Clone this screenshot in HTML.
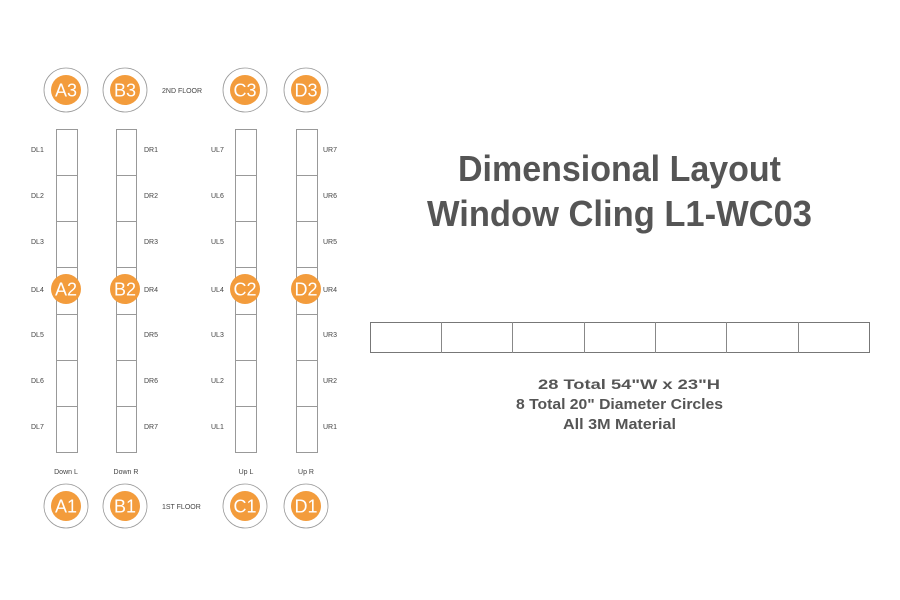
<!DOCTYPE html>
<html><head><meta charset="utf-8"><style>html,body{margin:0;padding:0;background:#fff}svg{display:block}</style></head>
<body>
<svg width="900" height="600" viewBox="0 0 900 600" xmlns="http://www.w3.org/2000/svg" font-family="Liberation Sans, sans-serif">
<rect width="900" height="600" fill="#fff"/>
<g fill="none" stroke="#999" stroke-width="1">
<rect x="56.5" y="129.5" width="21" height="323"/>
<rect x="116.5" y="129.5" width="20" height="323"/>
<rect x="235.5" y="129.5" width="21" height="323"/>
<rect x="296.5" y="129.5" width="21" height="323"/>
<path d="M56 175.5h22M56 221.5h22M56 267.5h22M56 314.5h22M56 360.5h22M56 406.5h22
M116 175.5h21M116 221.5h21M116 267.5h21M116 314.5h21M116 360.5h21M116 406.5h21
M235 175.5h22M235 221.5h22M235 267.5h22M235 314.5h22M235 360.5h22M235 406.5h22
M296 175.5h22M296 221.5h22M296 267.5h22M296 314.5h22M296 360.5h22M296 406.5h22"/>
<rect x="370.5" y="322.5" width="499" height="30" stroke="#777"/>
<path d="M441.5 322v31M512.5 322v31M584.5 322v31M655.5 322v31M726.5 322v31M798.5 322v31" stroke="#888"/>
</g>
<g font-size="7" fill="#444">
<text x="31" y="152">DL1</text><text x="31" y="198">DL2</text><text x="31" y="244">DL3</text><text x="31" y="292">DL4</text><text x="31" y="337">DL5</text><text x="31" y="383">DL6</text><text x="31" y="429">DL7</text>
<text x="144" y="152">DR1</text><text x="144" y="198">DR2</text><text x="144" y="244">DR3</text><text x="144" y="292">DR4</text><text x="144" y="337">DR5</text><text x="144" y="383">DR6</text><text x="144" y="429">DR7</text>
<text x="211" y="152">UL7</text><text x="211" y="198">UL6</text><text x="211" y="244">UL5</text><text x="211" y="292">UL4</text><text x="211" y="337">UL3</text><text x="211" y="383">UL2</text><text x="211" y="429">UL1</text>
<text x="323" y="152">UR7</text><text x="323" y="198">UR6</text><text x="323" y="244">UR5</text><text x="323" y="292">UR4</text><text x="323" y="337">UR3</text><text x="323" y="383">UR2</text><text x="323" y="429">UR1</text>
<text x="162" y="93">2ND FLOOR</text><text x="162" y="509">1ST FLOOR</text>
<text x="66" y="474" text-anchor="middle">Down L</text><text x="126" y="474" text-anchor="middle">Down R</text>
<text x="246" y="474" text-anchor="middle">Up L</text><text x="306" y="474" text-anchor="middle">Up R</text>
</g>
<g fill="none" stroke="#999" stroke-width="0.8">
<circle cx="66" cy="90" r="22"/><circle cx="125" cy="90" r="22"/><circle cx="245" cy="90" r="22"/><circle cx="306" cy="90" r="22"/>
<circle cx="66" cy="506" r="22"/><circle cx="125" cy="506" r="22"/><circle cx="245" cy="506" r="22"/><circle cx="306" cy="506" r="22"/>
</g>
<g fill="#f39c3c">
<circle cx="66" cy="90" r="15"/><circle cx="125" cy="90" r="15"/><circle cx="245" cy="90" r="15"/><circle cx="306" cy="90" r="15"/>
<circle cx="66" cy="289" r="15"/><circle cx="125" cy="289" r="15"/><circle cx="245" cy="289" r="15"/><circle cx="306" cy="289" r="15"/>
<circle cx="66" cy="506" r="15"/><circle cx="125" cy="506" r="15"/><circle cx="245" cy="506" r="15"/><circle cx="306" cy="506" r="15"/>
</g>
<g fill="#fff" font-size="18" text-anchor="middle">
<text x="66" y="96.5">A3</text><text x="125" y="96.5">B3</text><text x="245" y="96.5">C3</text><text x="306" y="96.5">D3</text>
<text x="66" y="295.5">A2</text><text x="125" y="295.5">B2</text><text x="245" y="295.5">C2</text><text x="306" y="295.5">D2</text>
<text x="66" y="512.5">A1</text><text x="125" y="512.5">B1</text><text x="245" y="512.5">C1</text><text x="306" y="512.5">D1</text>
</g>
<g fill="#555" font-weight="bold">
<text x="458" y="181" font-size="36" textLength="323" lengthAdjust="spacingAndGlyphs">Dimensional Layout</text>
<text x="427" y="226" font-size="36" textLength="385" lengthAdjust="spacingAndGlyphs">Window Cling L1-WC03</text>
<text x="538" y="389" font-size="14" textLength="182" lengthAdjust="spacingAndGlyphs">28 Total 54"W x 23"H</text>
<text x="516" y="409" font-size="14.5" textLength="207" lengthAdjust="spacingAndGlyphs">8 Total 20" Diameter Circles</text>
<text x="563" y="429" font-size="14.5" textLength="113" lengthAdjust="spacingAndGlyphs">All 3M Material</text>
</g>
</svg>
</body></html>
